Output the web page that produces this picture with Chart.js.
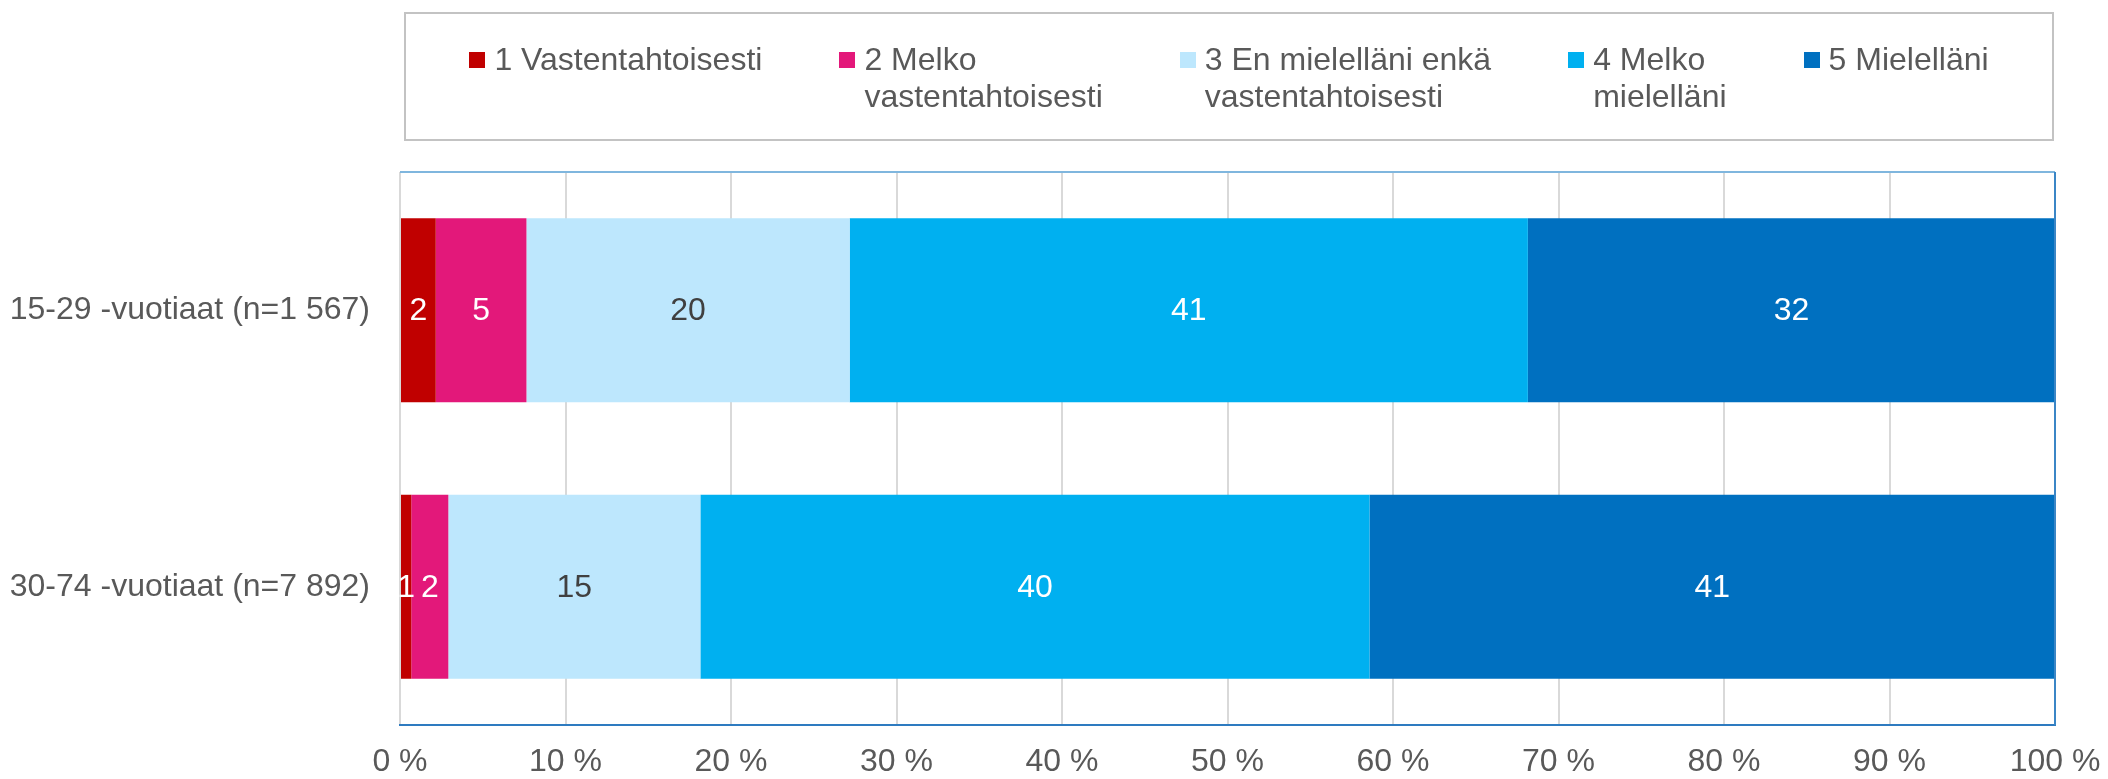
<!DOCTYPE html>
<html>
<head>
<meta charset="utf-8">
<script src="https://cdn.jsdelivr.net/npm/chart.js@4.4.1/dist/chart.umd.min.js"></script>
<style>
    body { margin: 0; background: #fff; font-family: "Liberation Sans", Arial, sans-serif; }
    #wrap { position: relative; width: 2108px; height: 779px; }
    #legend {
        position: absolute; left: 404px; top: 12px; width: 1650px; height: 129px;
        box-sizing: border-box; border: 2px solid #C3C3C3;
        display: flex; justify-content: center; align-items: flex-start; gap: 77px;
        padding-top: 27px; padding-left: 0px;
    }
    .item { display: flex; align-items: flex-start; }
    .box { width: 16px; height: 16px; margin-top: 11px; margin-right: 9px; flex: none; }
    .txt { font-size: 32px; line-height: 37px; color: #595959; white-space: nowrap; }
</style>
</head>
<body>
<div id="wrap">
    <canvas id="chart" width="2108" height="779"></canvas>
    <div id="legend"></div>
</div>
<script>
// groups (rows)
const groups = ['15-29 -vuotiaat (n=1 567)', '30-74 -vuotiaat (n=7 892)'];

// answer options, one series each (legend lines)
const seriesNames = [
    ['1 Vastentahtoisesti'],
    ['2 Melko', 'vastentahtoisesti'],
    ['3 En mielelläni enkä', 'vastentahtoisesti'],
    ['4 Melko', 'mielelläni'],
    ['5 Mielelläni']
];
const seriesColors = ['#C00000', '#E3187A', '#BDE7FD', '#00B0F0', '#0070C0'];
const labelColors = ['#FFFFFF', '#FFFFFF', '#404040', '#FFFFFF', '#FFFFFF'];

// shares in % per series, [15-29, 30-74]
const vastentahtoisesti = [2.16, 0.68];
const melkoVastentahtoisesti = [5.48, 2.24];
const neutraali = [19.53, 15.23];
const melkoMielellani = [40.98, 40.43];
const mielellani = [31.85, 41.42];
const seriesValues = [vastentahtoisesti, melkoVastentahtoisesti, neutraali, melkoMielellani, mielellani];

const xTicks = [0, 10, 20, 30, 40, 50, 60, 70, 80, 90, 100];

const FONT = { family: '"Liberation Sans", Arial, sans-serif', size: 32 };

/* ======= HTML legend ======= */
const legend = document.getElementById('legend');
seriesNames.forEach((lines, i) => {
    const item = document.createElement('div');
    item.className = 'item';
    item.innerHTML = `<div class="box" style="background:${seriesColors[i]}"></div>` +
        `<div class="txt">${lines.join('<br>')}</div>`;
    legend.appendChild(item);
});

/* ======= value labels inside segments ======= */
const valueLabels = {
    id: 'valueLabels',
    afterDatasetsDraw(chart) {
        const ctx = chart.ctx;
        ctx.save();
        ctx.font = `${FONT.size}px ${FONT.family}`;
        ctx.textAlign = 'center';
        ctx.textBaseline = 'middle';
        chart.data.datasets.forEach((ds, i) => {
            chart.getDatasetMeta(i).data.forEach((bar, j) => {
                const p = bar.getCenterPoint();
                ctx.fillStyle = labelColors[i];
                ctx.fillText(Math.round(ds.data[j]), p.x, p.y + 1);
            });
        });
        ctx.restore();
    }
};

/* ======= plot area frame (top + right) ======= */
const plotFrame = {
    id: 'plotFrame',
    afterDraw(chart) {
        const { ctx, chartArea: a } = chart;
        ctx.save();
        ctx.lineWidth = 2;
        ctx.strokeStyle = '#7FB6DE';
        ctx.beginPath();
        ctx.moveTo(a.left, a.top);
        ctx.lineTo(a.right, a.top);
        ctx.stroke();
        ctx.strokeStyle = '#3B86C6';
        ctx.beginPath();
        ctx.moveTo(a.right, a.top);
        ctx.lineTo(a.right, a.bottom);
        ctx.stroke();
        ctx.restore();
    }
};

new Chart(document.getElementById('chart'), {
    type: 'bar',
    data: {
        labels: groups,
        datasets: seriesValues.map((vals, i) => ({
            label: seriesNames[i].join(' '),
            data: vals,
            backgroundColor: seriesColors[i],
            borderWidth: 0,
            barPercentage: 0.665,
            categoryPercentage: 1
        }))
    },
    options: {
        indexAxis: 'y',
        responsive: false,
        animation: false,
        layout: { padding: { top: 172, right: 0, left: 0, bottom: 0 } },
        plugins: {
            legend: { display: false },
            tooltip: { enabled: false }
        },
        scales: {
            x: {
                stacked: true,
                min: 0,
                max: 100,
                afterBuildTicks: (scale) => { scale.ticks = xTicks.map(v => ({ value: v })); },
                ticks: {
                    color: '#595959',
                    font: FONT,
                    padding: 18,
                    maxRotation: 0,
                    callback: (v) => v + ' %'
                },
                grid: { color: '#D9D9D9', lineWidth: 2, drawTicks: false },
                border: { color: '#2E7BC0', width: 2 },
                afterFit: (scale) => {
                    scale.height = 54;
                    scale.paddingRight = 53;
                }
            },
            y: {
                stacked: true,
                ticks: { color: '#595959', font: FONT, padding: 30 },
                grid: { display: false, drawTicks: false },
                border: { display: false },
                afterFit: (scale) => { scale.width = 400; }
            }
        }
    },
    plugins: [valueLabels, plotFrame]
});
</script>
</body>
</html>
